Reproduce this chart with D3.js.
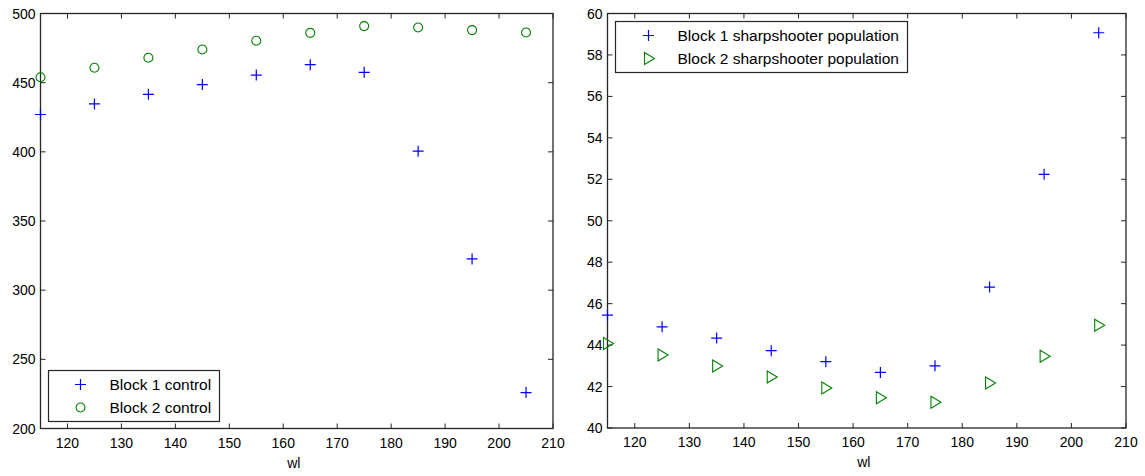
<!DOCTYPE html>
<html>
<head>
<meta charset="utf-8">
<script src="https://cdn.jsdelivr.net/npm/d3@7"></script>
<style>
  body { margin: 0; background: #fff; }
  svg { display: block; font-family: "Liberation Sans", Arial, sans-serif; }
  .tick-label { font-size: 14px; fill: #000; }
  .legend-text { font-size: 15.5px; fill: #000; }
</style>
</head>
<body>
<div id="chart"></div>
<script>
// wavelength categories shared by both panels
var wl = [115, 125, 135, 145, 155, 165, 175, 185, 195, 205];

// left panel
var block1Control = [427, 434.6, 441.6, 448.6, 455.5, 463, 457.5, 400.5, 322.6, 226];
var block2Control = [453.9, 460.8, 468, 474, 480.3, 486, 490.9, 489.9, 488, 486.3];

// right panel
var block1Sharp = [45.45, 44.88, 44.34, 43.73, 43.2, 42.68, 43.0, 46.8, 52.24, 59.07];
var block2Sharp = [44.08, 43.52, 42.99, 42.46, 41.93, 41.46, 41.24, 42.17, 43.46, 44.96];

var xTicks = [120, 130, 140, 150, 160, 170, 180, 190, 200, 210];
var leftYTicks = [200, 250, 300, 350, 400, 450, 500];
var rightYTicks = [40, 42, 44, 46, 48, 50, 52, 54, 56, 58, 60];

var W = 1145, H = 476;
var BLUE = "#0000ff", GREEN = "#008000", AXIS = "#262626";

var svg = d3.select("#chart").append("svg")
    .attr("width", W)
    .attr("height", H);

// marker shapes
function plus(g) {
    g.append("path").attr("d", "M-5.5,0H5.5M0,-5.5V5.5")
        .attr("stroke", BLUE).attr("stroke-width", 1.2).attr("fill", "none");
}
function circle(g) {
    g.append("circle").attr("r", 4.5)
        .attr("stroke", GREEN).attr("stroke-width", 1.1).attr("fill", "none");
}
function triangle(g) {
    g.append("path").attr("d", "M-4,-6L6,0L-4,6Z")
        .attr("stroke", GREEN).attr("stroke-width", 1.1).attr("fill", "none");
}

function panel(opt) {
    var x = d3.scaleLinear().domain([115, 210]).range([opt.left, opt.right]);
    var y = d3.scaleLinear().domain(opt.yDomain).range([opt.bottom, opt.top]);
    var g = svg.append("g");
    var tl = 5;

    // box
    g.append("rect")
        .attr("x", opt.left).attr("y", opt.top)
        .attr("width", opt.right - opt.left).attr("height", opt.bottom - opt.top)
        .attr("fill", "none").attr("stroke", AXIS).attr("stroke-width", 1.3);

    // x ticks, inward on bottom and top
    xTicks.forEach(function(t) {
        var px = x(t);
        g.append("line").attr("x1", px).attr("x2", px)
            .attr("y1", opt.bottom).attr("y2", opt.bottom - tl)
            .attr("stroke", AXIS);
        g.append("line").attr("x1", px).attr("x2", px)
            .attr("y1", opt.top).attr("y2", opt.top + tl)
            .attr("stroke", AXIS);
        g.append("text").attr("class", "tick-label")
            .attr("x", px).attr("y", opt.bottom + 19)
            .attr("text-anchor", "middle")
            .text(t);
    });

    // y ticks, inward on left and right
    opt.yTicks.forEach(function(t) {
        var py = y(t);
        g.append("line").attr("x1", opt.left).attr("x2", opt.left + tl)
            .attr("y1", py).attr("y2", py).attr("stroke", AXIS);
        g.append("line").attr("x1", opt.right).attr("x2", opt.right - tl)
            .attr("y1", py).attr("y2", py).attr("stroke", AXIS);
        g.append("text").attr("class", "tick-label")
            .attr("x", opt.left - 5).attr("y", py + 5)
            .attr("text-anchor", "end")
            .text(t);
    });

    g.append("text").attr("class", "tick-label")
        .attr("x", (opt.left + opt.right) / 2 - 3).attr("y", opt.bottom + 39)
        .attr("text-anchor", "middle")
        .text("wl");

    // series
    opt.series.forEach(function(s) {
        g.selectAll(null)
            .data(s.values)
            .enter().append("g")
            .attr("transform", function(d, i) {
                return "translate(" + x(wl[i]) + "," + y(d) + ")";
            })
            .each(function() { s.marker(d3.select(this)); });
    });

    // legend
    var L = opt.legend;
    g.append("rect")
        .attr("x", L.x).attr("y", L.y).attr("width", L.w).attr("height", L.h)
        .attr("fill", "#fff").attr("stroke", AXIS).attr("stroke-width", 1.2);
    opt.series.forEach(function(s, i) {
        var cy = L.y + 14 + i * 23;
        var m = g.append("g").attr("transform", "translate(" + (L.x + L.mx) + "," + cy + ")");
        s.marker(m);
        g.append("text").attr("class", "legend-text")
            .attr("x", L.x + L.tx).attr("y", cy + 5)
            .text(s.name);
    });
}

panel({
    left: 40.5, right: 553, top: 13.5, bottom: 428.5,
    yDomain: [200, 500], yTicks: leftYTicks,
    series: [
        { name: "Block 1 control", values: block1Control, marker: plus },
        { name: "Block 2 control", values: block2Control, marker: circle }
    ],
    legend: { x: 48.5, y: 370.5, w: 171, h: 51, mx: 32, tx: 61 }
});

panel({
    left: 607.5, right: 1126, top: 13.5, bottom: 428,
    yDomain: [40, 60], yTicks: rightYTicks,
    series: [
        { name: "Block 1 sharpshooter population", values: block1Sharp, marker: plus },
        { name: "Block 2 sharpshooter population", values: block2Sharp, marker: triangle }
    ],
    legend: { x: 615.5, y: 21.5, w: 292, h: 51, mx: 33, tx: 62 }
});
</script>
</body>
</html>
